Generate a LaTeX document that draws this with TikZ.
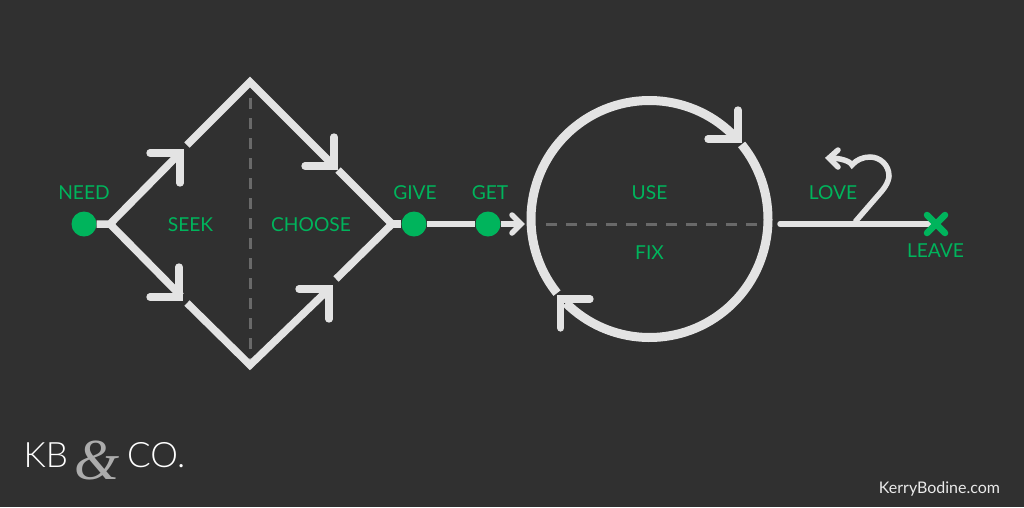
\documentclass[tikz,border=0pt]{standalone}
\usepackage{fontspec}
\setmainfont{Lato}
\newfontfamily\logofont{Lato Light}
\newfontfamily\ampfont{Liberation Serif}
\definecolor{bgc}{HTML}{303030}
\definecolor{linec}{HTML}{E3E3E3}
\definecolor{grn}{HTML}{00B45C}
\definecolor{dashc}{HTML}{696969}
\tikzset{
 lab/.style={text=grn,font=\fontsize{19.2}{19.2}\selectfont,inner sep=0pt,anchor=center},
 mainline/.style={draw=linec,line width=7.5pt,line join=miter},
 headline/.style={draw=linec,line width=7.3pt,line cap=round,line join=miter},
 thinhead/.style={draw=linec,line width=5.5pt,line cap=round,line join=miter},
 ring/.style={draw=linec,line width=9pt},
 dot/.style={circle,fill=grn,minimum size=25pt,inner sep=0pt},
 divider/.style={draw=dashc,line width=3pt,dash pattern=on 10.5pt off 9.5pt},
 logo/.style={text=white,font=\logofont\fontsize{35}{35}\selectfont,inner sep=0pt},
}
\begin{document}
\begin{tikzpicture}[x=1pt,y=-1pt]
\useasboundingbox[fill=bgc] (0,0) rectangle (1024,507);
% diamond points
\coordinate (L) at (110,224);
\coordinate (T) at (250,82);
\coordinate (R) at (392,224);
\coordinate (B) at (250,365);
\node[dot] (need) at (84,224) {};
\node[dot] (give) at (414,224) {};
\node[dot] (get) at (488,224) {};
% dividers
\coordinate (dt) at (250,98);
\coordinate (db) at (250,360);
\draw[divider] (dt) -- (db);
\coordinate (cl) at (546,224);
\coordinate (cr) at (758,224);
\draw[divider] (cl) -- (cr);
% diamond edges
\draw[mainline] (need) -- (L) -- (181,152);
\draw[mainline] (L) -- (181,296);
\coordinate (a1) at (187,145);
\coordinate (a2) at (334,166);
\coordinate (a3) at (187,303);
\coordinate (a4) at (330,288);
\coordinate (a5) at (336,279);
\coordinate (a6) at (338,170);
\draw[mainline] (a1) -- (T) -- (a2);
\draw[mainline] (a3) -- (B) -- (a4);
\draw[mainline] (a5) -- (R) -- (a6);
\draw[mainline] (R) -- (give);
% heads
\draw[headline] (150,153) -- (180,153) -- (180,183);
\draw[headline] (305,166) -- (334,166) -- (334,137);
\draw[headline] (150,297) -- (179,297) -- (179,267);
\draw[headline] (299,289) -- (329,289) -- (329,319);
% give-get
\coordinate (gg) at (518,224);
\draw[draw=linec,line width=6.5pt] (give) -- (get);
\draw[draw=linec,line width=6.5pt] (get) -- (gg);
\draw[thinhead] (512,215) -- (521,224) -- (512,233);
% circle
\coordinate (cc) at (649.5,219);
\draw[ring] (cc) ++(-218.7:118.5) arc[start angle=-218.7,end angle=-43,radius=118.5];
\draw[ring] (cc) ++(-39:118.5) arc[start angle=-39,end angle=135,radius=118.5];
\draw[headline] (708,139) -- (738,139) -- (738,110);
\draw[headline] (590,299) -- (560.7,299) -- (560.7,328);
% love / leave
\coordinate (ls) at (780,224);
\coordinate (le) at (930,224);
\coordinate (lb) at (855,222);
\coordinate (lcusp) at (852,165);
\draw[draw=linec,line width=5.5pt,line cap=round] (ls) -- (le);
\draw[draw=linec,line width=5.5pt,line join=miter] (lb) -- (881,192) .. controls (888,184) and (889,178) .. (889,176) .. controls (889,165) and (880,157) .. (870,157) .. controls (863,157) and (856,160) .. (lcusp) .. controls (850,161) and (840,158) .. (830,158);
\draw[thinhead] (838,150) -- (829,158) -- (838,167);
\draw[draw=grn,line width=6.5pt,line cap=round] (927,215) -- (945,233);
\draw[draw=grn,line width=6.5pt,line cap=round] (945,215) -- (927,233);
% labels
\node[lab] (tneed) at (84,193) {NEED};
\node[lab] (tseek) at (190.5,225) {SEEK};
\node[lab] (tchoose) at (311,225) {CHOOSE};
\node[lab] (tgive) at (415,193) {GIVE};
\node[lab] (tget) at (490,193) {GET};
\node[lab] (tuse) at (649.5,193) {USE};
\node[lab] (tfix) at (649.5,252.5) {FIX};
\node[lab] (tlove) at (833,193) {LOVE};
\node[lab] (tleave) at (935.5,251) {LEAVE};
% logo
\node[logo,anchor=base west] (kb) at (23.5,467) {KB};
\node[logo,anchor=base west] (co) at (127,467) {CO.};
\node[inner sep=0pt,anchor=center,text=white!60!bgc,font=\ampfont\itshape\fontsize{58}{58}\selectfont] (amp) at (97,460) {\&};
\node[text=white!90!bgc,font=\fontsize{16}{16}\selectfont,inner sep=0pt] (site) at (939.5,489) {KerryBodine.com};
\end{tikzpicture}
\end{document}
